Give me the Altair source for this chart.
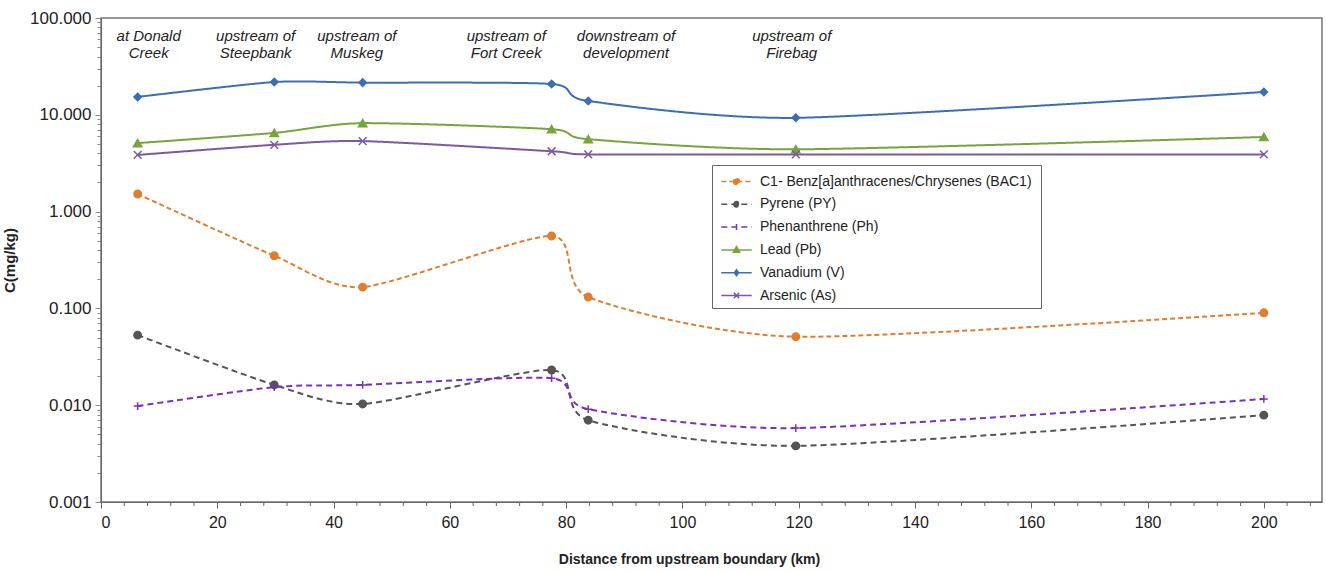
import altair as alt
import pandas as pd

# distances (km)
distance = [6.3, 29.8, 45.0, 77.5, 83.8, 119.5, 200.0]

series_names = [
    "C1- Benz[a]anthracenes/Chrysenes  (BAC1)",
    "Pyrene (PY)",
    "Phenanthrene (Ph)",
    " Lead (Pb)",
    "Vanadium (V)",
    "Arsenic (As)",
]
bac1 = [1.52, 0.35, 0.166, 0.56, 0.131, 0.051, 0.090]
pyrene = [0.053, 0.0162, 0.0103, 0.0231, 0.0070, 0.0038, 0.0079]
phenanthrene = [0.0098, 0.0154, 0.0162, 0.0190, 0.0091, 0.0058, 0.0116]
lead = [5.1, 6.5, 8.2, 7.1, 5.6, 4.4, 5.9]
vanadium = [15.3, 21.8, 21.5, 20.8, 13.9, 9.3, 17.2]
arsenic = [3.85, 4.9, 5.35, 4.2, 3.9, 3.9, 3.9]

series_values = [bac1, pyrene, phenanthrene, lead, vanadium, arsenic]
colors = ["#E07E2E", "#555555", "#7B2FC0", "#77A53C", "#3C6EB4", "#7A5AA0"]
dashes = [[5, 3], [6, 4], [6, 4], [1, 0], [1, 0], [1, 0]]
markers = ["circle", "circle", "M-1,0L1,0M0,-1L0,1", "triangle-up", "diamond",
           "M-1,-1L1,1M-1,1L1,-1"]
marker_sizes = [55, 55, 60, 70, 55, 60]
# legend symbols: line segment + marker
legend_shapes = [
    "M-1.45,0L1.45,0M-0.28,0A0.28,0.28 0 1,0 0.28,0A0.28,0.28 0 1,0 -0.28,0Z",
    "M-1.45,0L1.45,0M-0.26,0A0.26,0.26 0 1,0 0.26,0A0.26,0.26 0 1,0 -0.26,0Z",
    "M-1.45,0L1.45,0M0,-0.3L0,0.3",
    "M-1.45,0L1.45,0M0,-0.32L0.3,0.22L-0.3,0.22Z",
    "M-1.45,0L1.45,0M0,-0.28L0.2,0L0,0.28L-0.2,0Z",
    "M-1.45,0L1.45,0M-0.25,-0.25L0.25,0.25M-0.25,0.25L0.25,-0.25",
]

# site annotations
site_lines1 = ["at Donald", "upstream of", "upstream of", "upstream of", "downstream of", "upstream of"]
site_lines2 = ["Creek", "Steepbank", "Muskeg", "Fort Creek", "development", "Firebag"]
site_x = [8.2, 26.6, 44.0, 69.7, 90.3, 118.8]

# axis ticks
x_major = list(range(0, 201, 20))
x_minor = [v for v in range(0, 209, 4) if v % 20 != 0]

rows = []
for name, vals in zip(series_names, series_values):
    for d, v in zip(distance, vals):
        rows.append({"series": name, "distance": d, "conc": v})
df = pd.DataFrame(rows)

ann = pd.DataFrame({"x": site_x, "l1": site_lines1, "l2": site_lines2})
minor_df = pd.DataFrame({"t": x_minor})

FONT = "Liberation Sans"

xscale = alt.Scale(domain=[0, 210], nice=False, zero=False)
yscale = alt.Scale(type="log", domain=[0.001, 100], nice=False)

y_ticks = []
for e in range(-3, 2):
    for m in range(1, 10):
        y_ticks.append(round(m * 10 ** e, 6))
y_ticks.append(100)

is_decade = "abs(log(datum.value)/LN10 - round(log(datum.value)/LN10)) < 1e-6"

x_enc = alt.X("distance:Q", scale=xscale,
              axis=alt.Axis(values=x_major, title="Distance from upstream boundary (km)",
                            tickSize=6, grid=False, labelFontSize=16, labelPadding=6,
                            titleFontSize=14, titleFontWeight="bold", titlePadding=22,
                            titleX=588,
                            domainColor="#666", tickColor="#666", labelColor="#222",
                            titleColor="#222"))
y_enc = alt.Y("conc:Q", scale=yscale,
              axis=alt.Axis(values=y_ticks, title="C(mg/kg)",
                            labelExpr=is_decade + " ? format(datum.value, '.3f') : ''",
                            tickSize={"expr": is_decade + " ? 6 : 4"},
                            grid=False, labelFontSize=17, labelPadding=4,
                            titleFontSize=15, titleFontWeight="bold", titlePadding=12,
                            domainColor="#666", tickColor="#888", labelColor="#222",
                            titleColor="#222"))

color_scale = alt.Scale(domain=series_names, range=colors)
dash_scale = alt.Scale(domain=series_names, range=dashes)
shape_scale = alt.Scale(domain=series_names, range=legend_shapes)
legend = alt.Legend(title=None, orient="none", legendX=611, legendY=147,
                    fillColor="white", strokeColor="#666", padding=5,
                    labelFontSize=14, labelFont=FONT, labelColor="#222", rowPadding=3.8,
                    symbolSize=441, symbolStrokeWidth=1.5, labelLimit=400,
                    symbolOffset=8, labelOffset=12)

# legend-only layer (no visible marks); it comes first so its legend settings win
legend_layer = alt.Chart(df).transform_filter("false").mark_point(
    filled=True, strokeWidth=1.5, opacity=1).encode(
    x=x_enc, y=y_enc,
    fill=alt.Fill("series:N", scale=color_scale, legend=legend),
    stroke=alt.Stroke("series:N", scale=color_scale, legend=legend),
    strokeDash=alt.StrokeDash("series:N", scale=dash_scale, legend=legend),
    shape=alt.Shape("series:N", scale=shape_scale, legend=legend),
)

lines = alt.Chart(df).mark_line(interpolate="cardinal", tension=0.3, strokeWidth=2).encode(
    x="distance:Q", y="conc:Q",
    stroke=alt.Stroke("series:N", scale=color_scale),
    strokeDash=alt.StrokeDash("series:N", scale=dash_scale),
    detail="series:N",
)

marker_layers = []
for name, shp, sz in zip(series_names, markers, marker_sizes):
    marker_layers.append(
        alt.Chart(df).transform_filter(alt.datum.series == name).mark_point(
            filled=True, shape=shp, size=sz, strokeWidth=1.5, opacity=1).encode(
            x="distance:Q", y="conc:Q",
            fill=alt.Fill("series:N", scale=color_scale),
            stroke=alt.Stroke("series:N", scale=color_scale),
        )
    )

minor_ticks = alt.Chart(minor_df).mark_rule(color="#666", strokeWidth=1).encode(
    x=alt.X("t:Q", scale=xscale), y=alt.value(484), y2=alt.value(488))

ann1 = alt.Chart(ann).mark_text(fontStyle="italic", fontSize=15, font=FONT, color="#222",
                                align="center", baseline="middle").encode(
    x=alt.X("x:Q", scale=xscale), y=alt.value(18), text="l1:N")
ann2 = alt.Chart(ann).mark_text(fontStyle="italic", fontSize=15, font=FONT, color="#222",
                                align="center", baseline="middle").encode(
    x=alt.X("x:Q", scale=xscale), y=alt.value(35), text="l2:N")

chart = alt.layer(legend_layer, lines, *marker_layers, minor_ticks, ann1, ann2).properties(
    width=1221, height=484,
    autosize=alt.AutoSizeParams(type="none"),
    padding={"left": 101, "top": 18, "right": 4, "bottom": 69},
).configure(font=FONT).configure_view(stroke="#777", strokeWidth=1.5).configure_axis(
    labelFont=FONT, titleFont=FONT)

chart.save("out.html", embed_options={"renderer": "svg", "actions": False})
